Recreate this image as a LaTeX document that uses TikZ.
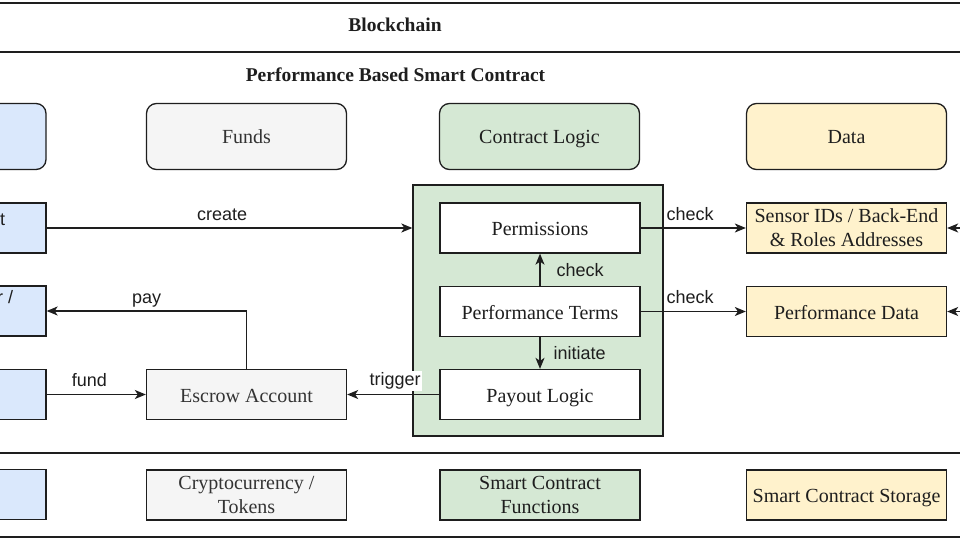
\documentclass[tikz,border=0pt]{standalone}
\usepackage{fontspec}
\setmainfont{Liberation Serif}
\setsansfont{Liberation Sans}
\usetikzlibrary{arrows.meta}
\definecolor{bluef}{HTML}{DAE8FC}
\definecolor{greyf}{HTML}{F5F5F5}
\definecolor{greenf}{HTML}{D5E8D4}
\definecolor{yellowf}{HTML}{FFF2CC}
\definecolor{ink}{HTML}{1E1E1E}
\definecolor{greyink}{HTML}{333333}
\begin{document}
\begin{tikzpicture}[x=1pt,y=-1pt,
 box/.style={draw=ink, line width=1.3pt, minimum width=200pt, minimum height=50pt, inner sep=0pt, align=center, font=\fontsize{20}{24}\selectfont, text=ink},
 one/.style={text height=15pt, text depth=0pt},
 hdr/.style={box, one, rounded corners=10pt, minimum height=66pt},
 lbl/.style={font=\sffamily\fontsize{18}{20}\selectfont, text=ink, inner sep=0pt},
 conn/.style={draw=ink, line width=1.3pt, -{Stealth[length=11pt,width=9pt,inset=3pt]}},
 lane/.style={draw=ink, line width=1.6pt},
 ttl/.style={font=\bfseries\fontsize{19.5}{24}\selectfont, text=ink, inner sep=0pt, anchor=base}
]
\useasboundingbox (0,0) rectangle (960,540);
\clip (0,0) rectangle (960,540);
\fill[white] (0,0) rectangle (960,540);
% containers
\draw[lane] (-200,3) rectangle (1160,537);
\draw[lane] (-180,52) rectangle (1140,453);
\node[ttl] (bctitle) at (395,32) {Blockchain};
\node[ttl] (sctitle) at (395.5,82) {Performance Based Smart Contract};
% header boxes
\node[hdr, fill=bluef] (hblue) at (-54,136.5) {};
\node[hdr, fill=greyf, text=greyink] (hfunds) at (246.5,136.5) {Funds};
\node[hdr, fill=greenf] (hlogic) at (539.5,136.5) {Contract Logic};
\node[hdr, fill=yellowf] (hdata) at (846.5,136.5) {Data};
% logic container
\node[draw=ink, line width=1.3pt, fill=greenf, minimum width=250pt, minimum height=251pt, inner sep=0pt] (logicbox) at (538,310.5) {};
% left boxes
\node[box, fill=bluef] (client) at (-54,228) {};
\node[box, fill=bluef] (payer) at (-54,311) {};
\node[box, fill=bluef] (funder) at (-54,394.5) {};
\node[box, fill=bluef] (bblue) at (-54,494.5) {};
\node[lbl, anchor=base west] (tfrag) at (0,225) {t};
\node[lbl, anchor=base west] (rfrag) at (-3,303) {r /};
% funds column
\node[box, one, fill=greyf, text=greyink] (escrow) at (246.5,394.5) {Escrow Account};
\node[box, fill=greyf, text=greyink] (crypto) at (246.5,495) {Cryptocurrency /\\Tokens};
% logic column
\node[box, one, fill=white] (perm) at (540,228) {Permissions};
\node[box, one, fill=white] (perf) at (540,311.5) {Performance Terms};
\node[box, one, fill=white] (payout) at (540,394.5) {Payout Logic};
\node[box, fill=greenf] (functions) at (540,495) {Smart Contract\\Functions};
% data column
\node[box, fill=yellowf] (sensor) at (846.5,228) {Sensor IDs / Back-End\\\& Roles Addresses};
\node[box, one, fill=yellowf] (pdata) at (846.5,311.5) {Performance Data};
\node[box, one, fill=yellowf] (storage) at (846.5,495) {Smart Contract Storage};
% connectors
\draw[conn] (client.east) -- node[lbl, anchor=base, pos=0.48, yshift=8pt] {create} (client.east -| logicbox.west);
\draw[conn] (escrow.north) |- node[lbl, anchor=base, pos=0.75, yshift=8pt] {pay} (payer.east);
\draw[conn] (funder.east) -- node[lbl, anchor=base, pos=0.43, yshift=8pt] {fund} (escrow.west);
\draw[conn] (payout.west) -- node[lbl, anchor=base, pos=0.48, yshift=9pt, fill=white, inner sep=1.5pt] {trigger} (escrow.east);
\draw[conn] (perf.north) -- node[lbl, anchor=west, xshift=16pt] {check} (perm.south);
\draw[conn] (perf.south) -- node[lbl, anchor=west, xshift=13pt] {initiate} (payout.north);
\draw[conn] (perm.east) -- node[lbl, anchor=base, pos=0.47, yshift=8pt] {check} (sensor.west);
\draw[conn] (perf.east) -- node[lbl, anchor=base, pos=0.47, yshift=8pt] {check} (pdata.west);
\coordinate (rin1) at (985,228);
\coordinate (rin2) at (985,311.5);
\draw[conn] (rin1) -- (sensor.east);
\draw[conn] (rin2) -- (pdata.east);
\end{tikzpicture}
\end{document}
